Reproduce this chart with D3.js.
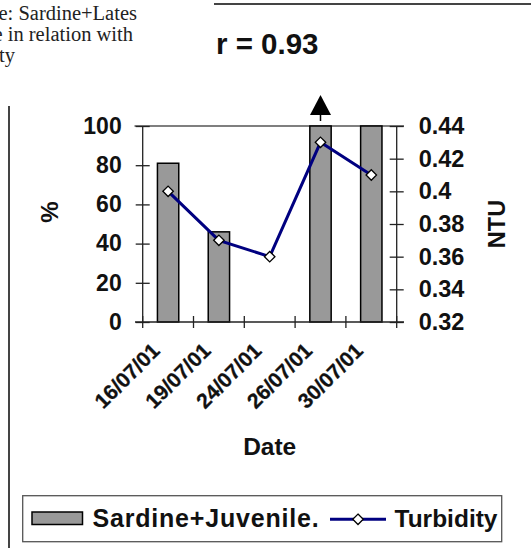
<!DOCTYPE html>
<html><head><meta charset="utf-8">
<script src="https://cdn.jsdelivr.net/npm/d3@7"></script>
<style>
html,body{margin:0;padding:0;background:#fff;}
svg{display:block;}
</style></head>
<body>
<svg id="chart" width="531" height="548"></svg>
<script>
const dates = ["16/07/01","19/07/01","24/07/01","26/07/01","30/07/01"];
const sardine = [81, 46, null, 100, 100];
const turbidity = [0.40, 0.37, 0.36, 0.43, 0.41];
const leftTicks = [0,20,40,60,80,100];
const rightTicks = [0.32,0.34,0.36,0.38,0.40,0.42,0.44];
const captionLines = ["e: Sardine+Lates","e in relation with","ty"];
const rText = "r = 0.93";
const seriesNames = ["Sardine+Juvenile.","Turbidity"];

const svg = d3.select("#chart");
const sans = "'Liberation Sans', Arial, sans-serif";
const serif = "'Liberation Serif', 'Times New Roman', serif";

const x = d3.scaleBand().domain(dates).range([142.7, 396.7]);
const yL = d3.scaleLinear().domain([0,100]).range([322,126]);
const yR = d3.scaleLinear().domain([0.32,0.44]).range([322,126]);

// decorative page lines
svg.append("line").attr("x1",214).attr("x2",531).attr("y1",4).attr("y2",4)
  .attr("stroke","#444").attr("stroke-width",2);
svg.append("line").attr("x1",9).attr("x2",9).attr("y1",106).attr("y2",548)
  .attr("stroke","#444").attr("stroke-width",2);

// caption (figure text, cut at the left page edge as in the original)
const capX = [-1.5, -6.5, -1];
captionLines.forEach((t,i)=>{
  svg.append("text").attr("x", capX[i]).attr("y", 19.5 + i*21)
    .attr("font-family",serif).attr("font-size",20.5).attr("fill","#222").text(t);
});

// r value
svg.append("text").attr("x",216).attr("y",54).attr("font-family",sans)
  .attr("font-weight","bold").attr("font-size",29.5).attr("fill","#111").text(rText);

// top border line at 100
svg.append("line").attr("x1",134.5).attr("x2",404).attr("y1",yL(100)).attr("y2",yL(100))
  .attr("stroke","#555").attr("stroke-width",1.3);

// bars
const bw = x.bandwidth()*0.42;
svg.append("g").selectAll("rect").data(dates.map((d,i)=>({d, v:sardine[i]})).filter(o=>o.v!==null))
  .join("rect")
  .attr("x", o=>x(o.d)+x.bandwidth()/2-bw/2)
  .attr("y", o=>yL(o.v))
  .attr("width", bw)
  .attr("height", o=>yL(0)-yL(o.v))
  .attr("fill","#999999").attr("stroke","#000").attr("stroke-width",1.5);

// left axis
const gL = svg.append("g").attr("transform",`translate(${142.7+7},0)`)
  .call(d3.axisLeft(yL).tickValues(leftTicks).tickSizeInner(14).tickSizeOuter(0).tickPadding(14).tickFormat(d3.format("d")));
gL.select(".domain").remove();
gL.selectAll(".tick line").attr("stroke","#222").attr("stroke-width",1.3);
gL.selectAll("text").attr("font-family",sans).attr("font-weight","bold").attr("font-size",23).attr("fill","#111");
svg.append("line").attr("x1",142.7).attr("x2",142.7).attr("y1",yL(100)).attr("y2",yL(0))
  .attr("stroke","#222").attr("stroke-width",1.3);

// right axis
const gR = svg.append("g").attr("transform",`translate(${396.7-7},0)`)
  .call(d3.axisRight(yR).tickValues(rightTicks).tickSizeInner(14).tickSizeOuter(0).tickPadding(15).tickFormat(d=>String(+d.toFixed(2))));
gR.select(".domain").remove();
gR.selectAll(".tick line").attr("stroke","#222").attr("stroke-width",1.3);
gR.selectAll("text").attr("font-family",sans).attr("font-weight","bold").attr("font-size",23.5).attr("fill","#111");
svg.append("line").attr("x1",396.7).attr("x2",396.7).attr("y1",yR(0.44)).attr("y2",yR(0.32))
  .attr("stroke","#222").attr("stroke-width",1.3);

// x axis
svg.append("line").attr("x1",135).attr("x2",404).attr("y1",yL(0)).attr("y2",yL(0))
  .attr("stroke","#222").attr("stroke-width",1.3);
const xTickPos = dates.map(d=>x(d)).concat([x.range()[1]]);
svg.append("g").selectAll("line").data(xTickPos).join("line")
  .attr("x1",d=>d).attr("x2",d=>d).attr("y1",yL(0)-6).attr("y2",yL(0)+6)
  .attr("stroke","#222").attr("stroke-width",1.3);
svg.append("g").selectAll("text").data(dates).join("text")
  .attr("transform",d=>`translate(${x(d)+x.bandwidth()/2-7},${352}) rotate(-45)`)
  .attr("text-anchor","end")
  .attr("font-family",sans).attr("font-weight","bold").attr("font-size",21).attr("fill","#111")
  .attr("stroke","#111").attr("stroke-width",0.3)
  .text(d=>d);

// axis titles
svg.append("text").attr("x",269.7).attr("y",455).attr("text-anchor","middle")
  .attr("font-family",sans).attr("font-weight","bold").attr("font-size",24.5).attr("fill","#111").text("Date");
svg.append("text").attr("transform","translate(58,212) rotate(-90)").attr("text-anchor","middle")
  .attr("font-family",sans).attr("font-weight","bold").attr("font-size",24).attr("fill","#111").text("%");
svg.append("text").attr("transform","translate(505,224) rotate(-90)").attr("text-anchor","middle")
  .attr("font-family",sans).attr("font-weight","bold").attr("font-size",23.5).attr("fill","#111").text("NTU");

// turbidity line
const line = d3.line().x((d,i)=>x(dates[i])+x.bandwidth()/2).y(d=>yR(d));
svg.append("path").datum(turbidity).attr("d",line).attr("fill","none")
  .attr("stroke","#000080").attr("stroke-width",3);
const diamond = d3.symbol().type(d3.symbolDiamond2).size(70);
svg.append("g").selectAll("path").data(turbidity).join("path")
  .attr("transform",(d,i)=>`translate(${x(dates[i])+x.bandwidth()/2},${yR(d)})`)
  .attr("d",diamond).attr("fill","#fff").attr("stroke","#000").attr("stroke-width",1.3);

// arrow above 26/07/01
const ax = x(dates[3])+x.bandwidth()/2;
svg.append("line").attr("x1",ax).attr("x2",ax).attr("y1",113).attr("y2",121)
  .attr("stroke","#000").attr("stroke-width",1.5);
svg.append("path").attr("d",`M${ax},95 L${ax+10.5},115 L${ax-10.5},115 Z`).attr("fill","#000");

// legend
const lg = svg.append("g");
lg.append("rect").attr("x",22.7).attr("y",495.7).attr("width",479).attr("height",46)
  .attr("fill","#fff").attr("stroke","#555").attr("stroke-width",1.3);
lg.append("rect").attr("x",32).attr("y",512).attr("width",50.5).attr("height",12.5)
  .attr("fill","#999999").attr("stroke","#000").attr("stroke-width",1.5);
lg.append("text").attr("x",92.5).attr("y",526.5).attr("font-family",sans).attr("font-weight","bold")
  .attr("font-size",25).attr("letter-spacing",0.8).attr("fill","#111").text(seriesNames[0]);
lg.append("line").attr("x1",330).attr("x2",386).attr("y1",519.3).attr("y2",519.3)
  .attr("stroke","#000080").attr("stroke-width",3);
lg.append("path").attr("transform","translate(358,519.3)").attr("d",diamond)
  .attr("fill","#fff").attr("stroke","#000").attr("stroke-width",1.3);
lg.append("text").attr("x",394.5).attr("y",526.5).attr("font-family",sans).attr("font-weight","bold")
  .attr("font-size",24.5).attr("fill","#111").text(seriesNames[1]);
</script>
</body></html>
